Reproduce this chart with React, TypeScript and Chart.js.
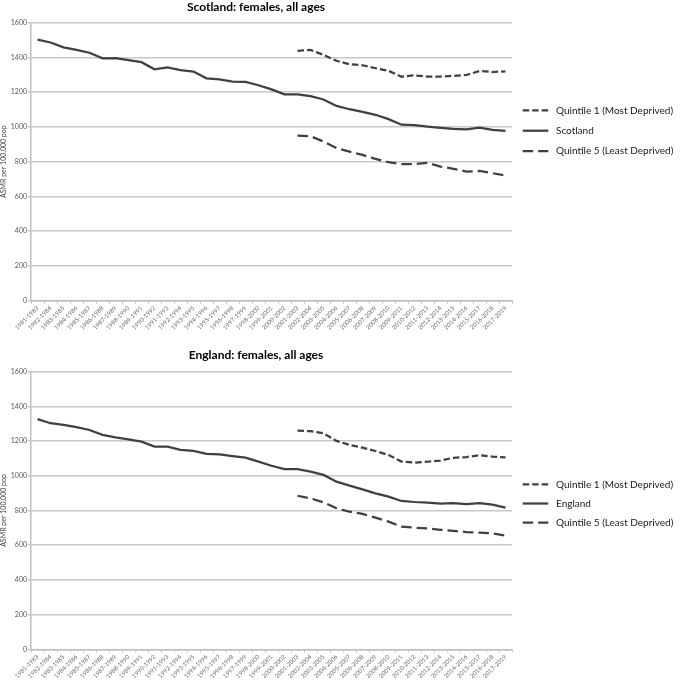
import React, { useEffect, useRef } from "react";
import { Chart, registerables } from "chart.js";

Chart.register(...registerables);

const periods = [
  "1981-1983", "1982-1984", "1983-1985", "1984-1986", "1985-1987", "1986-1988", "1987-1989",
  "1988-1990", "1989-1991", "1990-1992", "1991-1993", "1992-1994", "1993-1995", "1994-1996",
  "1995-1997", "1996-1998", "1997-1999", "1998-2000", "1999-2001", "2000-2002", "2001-2003",
  "2002-2004", "2003-2005", "2004-2006", "2005-2007", "2006-2008", "2007-2009", "2008-2010",
  "2009-2011", "2010-2012", "2011-2013", "2012-2014", "2013-2015", "2014-2016", "2015-2017",
  "2016-2018", "2017-2019",
];

const N = null;

const scotlandAll = [
  1503, 1486, 1458, 1444, 1427, 1395, 1396, 1385, 1373, 1332, 1343, 1327, 1319, 1280, 1274,
  1261, 1259, 1240, 1216, 1188, 1187, 1177, 1158, 1121, 1102, 1087, 1070, 1045, 1013, 1010,
  1002, 995, 989, 986, 996, 983, 978,
];
const scotlandQ1 = [
  N, N, N, N, N, N, N, N, N, N, N, N, N, N, N, N, N, N, N, N,
  1438, 1443, 1415, 1381, 1361, 1355, 1338, 1323, 1289, 1297, 1290, 1290, 1294, 1299, 1322,
  1316, 1320,
];
const scotlandQ5 = [
  N, N, N, N, N, N, N, N, N, N, N, N, N, N, N, N, N, N, N, N,
  950, 947, 916, 878, 858, 839, 816, 797, 786, 786, 794, 772, 759, 743, 747, 734, 720,
];

const englandAll = [
  1327, 1303, 1293, 1280, 1264, 1236, 1222, 1210, 1197, 1168, 1168, 1149, 1143, 1126, 1124,
  1114, 1105, 1082, 1058, 1039, 1039, 1024, 1005, 966, 943, 922, 899, 880, 855, 849, 845,
  839, 843, 837, 843, 834, 817,
];
const englandQ1 = [
  N, N, N, N, N, N, N, N, N, N, N, N, N, N, N, N, N, N, N, N,
  1260, 1257, 1245, 1201, 1178, 1162, 1143, 1120, 1082, 1076, 1081, 1088, 1104, 1108, 1119,
  1110, 1106,
];
const englandQ5 = [
  N, N, N, N, N, N, N, N, N, N, N, N, N, N, N, N, N, N, N, N,
  885, 870, 847, 813, 793, 780, 759, 736, 707, 701, 697, 689, 682, 676, 672, 668, 655,
];

const q1Label = "Quintile 1 (Most Deprived)";
const q5Label = "Quintile 5 (Least Deprived)";
const yTitle = "ASMR per 100,000 pop";

const FONT = "Lato, 'DejaVu Sans', sans-serif";
const LINE = "#404040";

const lineLegend = {
  id: "lineLegend",
  afterDraw(chart: any, _args: any, opts: any) {
    const { ctx, chartArea } = chart;
    const x0 = chartArea.right + opts.offsetX;
    let y = chartArea.top + opts.offsetY;
    ctx.save();
    chart.data.datasets.forEach((ds: any) => {
      ctx.beginPath();
      ctx.setLineDash(ds.borderDash || []);
      ctx.lineWidth = ds.borderWidth;
      ctx.strokeStyle = ds.borderColor;
      ctx.moveTo(x0, y);
      ctx.lineTo(x0 + opts.sampleWidth, y);
      ctx.stroke();
      ctx.setLineDash([]);
      ctx.fillStyle = opts.color;
      ctx.font = opts.font;
      ctx.textBaseline = "middle";
      ctx.textAlign = "left";
      ctx.fillText(ds.label, x0 + opts.sampleWidth + opts.gap, y);
      y += opts.spacing;
    });
    ctx.restore();
  },
};

function makeConfig(p: {
  title: string;
  allLabel: string;
  q1: (number | null)[];
  all: (number | null)[];
  q5: (number | null)[];
  titleTop: number;
  titleBottom: number;
  xHeight: number;
  legendY: number;
  legendSpacing: number;
}): any {
  const common = {
    borderColor: LINE,
    borderWidth: 2.25,
    pointRadius: 0,
    pointHoverRadius: 0,
    fill: false,
    tension: 0,
  };
  return {
    type: "line",
    data: {
      labels: periods,
      datasets: [
        { ...common, label: q1Label, data: p.q1, borderDash: [6.5, 3] },
        { ...common, label: p.allLabel, data: p.all, borderDash: [] },
        { ...common, label: q5Label, data: p.q5, borderDash: [10.5, 5] },
      ],
    },
    plugins: [lineLegend],
    options: {
      responsive: false,
      animation: false,
      events: [],
      layout: { padding: { left: 0, right: 173, top: 0, bottom: 0 } },
      plugins: {
        legend: { display: false },
        tooltip: { enabled: false },
        title: {
          display: true,
          text: p.title,
          color: "#000",
          font: { family: FONT, size: 12, weight: "bold" },
          padding: { top: p.titleTop, bottom: p.titleBottom },
        },
        lineLegend: {
          offsetX: 10.7,
          offsetY: p.legendY,
          spacing: p.legendSpacing,
          sampleWidth: 25.6,
          gap: 7.7,
          color: "#1a1a1a",
          font: `10px ${FONT}`,
        },
      },
      scales: {
        x: {
          type: "category",
          offset: true,
          grid: {
            display: true,
            drawOnChartArea: false,
            drawTicks: true,
            tickLength: 3,
            color: "#bfbfbf",
            lineWidth: 1,
            offset: true,
          },
          border: { color: "#bfbfbf", width: 1.5 },
          ticks: {
            autoSkip: false,
            maxRotation: 45,
            minRotation: 45,
            padding: 1,
            color: "#666666",
            font: { family: FONT, size: 6 },
          },
          afterFit(scale: any) {
            scale.height = p.xHeight;
          },
        },
        y: {
          min: 0,
          max: 1600,
          ticks: {
            stepSize: 200,
            padding: 1,
            color: "#595959",
            font: { family: FONT, size: 7 },
            callback: (v: any) => String(v),
          },
          grid: { color: "#c8c8c8", lineWidth: 1.5, tickLength: 3 },
          border: { color: "#bfbfbf", width: 1.5 },
          title: {
            display: true,
            text: yTitle,
            color: "#404040",
            font: { family: FONT, size: 7 },
            padding: { top: 0, bottom: 0 },
          },
          afterFit(scale: any) {
            scale.width = 31;
          },
        },
      },
    },
  };
}

function LineChart({ config, width, height }: { config: any; width: number; height: number }) {
  const ref = useRef<HTMLCanvasElement | null>(null);
  useEffect(() => {
    if (!ref.current) return;
    const chart = new Chart(ref.current, config);
    return () => chart.destroy();
  }, [config]);
  return <canvas ref={ref} width={width} height={height} style={{ display: "block", width, height }} />;
}

const scotlandConfig = makeConfig({
  title: "Scotland: females, all ages",
  allLabel: "Scotland",
  q1: scotlandQ1,
  all: scotlandAll,
  q5: scotlandQ5,
  titleTop: 0.3,
  titleBottom: 8,
  xHeight: 39.3,
  legendY: 87.6,
  legendSpacing: 20.4,
});

const englandConfig = makeConfig({
  title: "England: females, all ages",
  allLabel: "England",
  q1: englandQ1,
  all: englandAll,
  q5: englandQ5,
  titleTop: 7.8,
  titleBottom: 9.5,
  xHeight: 33.7,
  legendY: 112.6,
  legendSpacing: 19.2,
});

export default function App() {
  return (
    <div style={{ position: "fixed", left: 0, top: 0, width: 685, height: 683, background: "#fff" }}>
      <LineChart config={scotlandConfig} width={685} height={340} />
      <LineChart config={englandConfig} width={685} height={343} />
    </div>
  );
}
